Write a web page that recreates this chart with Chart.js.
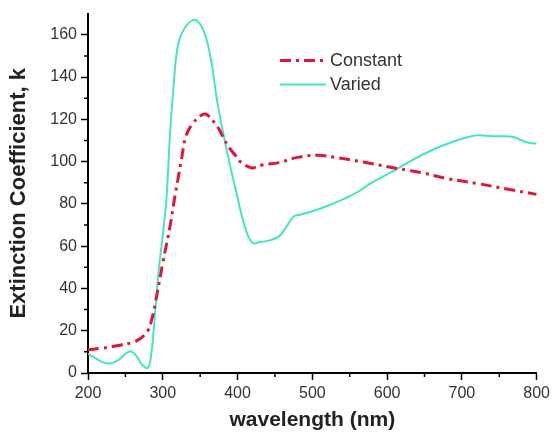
<!DOCTYPE html>
<html>
<head>
<meta charset="utf-8">
<script src="https://cdn.jsdelivr.net/npm/chart.js@4/dist/chart.umd.min.js"></script>
<style>
  html, body { margin: 0; padding: 0; background: #fff; }
  #chart { display: block; }
</style>
</head>
<body>
<canvas id="chart" width="554" height="439"></canvas>
<script>
// valeurs
const constantX = [200, 220, 240, 260, 270, 280, 285, 290, 300, 310, 315, 320, 325, 331, 340, 350, 355, 360, 370, 375, 380, 390, 397, 405, 415, 420, 433, 455, 480, 508, 530, 560, 580, 614, 627, 650, 680, 720, 760, 800];
const constantK = [11, 11.8, 13, 14.5, 16.3, 20, 25, 33, 52, 70, 81, 91, 101, 112, 118, 121.5, 122.5, 122, 118, 115.5, 112, 106, 103, 99.5, 97.5, 97, 98.4, 99.5, 102, 103, 102, 100.3, 99, 96.7, 96, 94.5, 92, 89.7, 87, 84.5];

const variedX = [200, 210, 220, 230, 240, 250, 257, 265, 272, 280, 285, 290, 295, 300, 305, 310, 315, 318, 322, 326, 332, 338, 344, 350, 355, 360, 366, 373, 386, 400, 410, 420, 430, 440, 455, 465, 475, 485, 500, 520, 543, 560, 578, 595, 614, 630, 650, 670, 685, 700, 720, 740, 755, 769, 780, 790, 800];
const variedK = [9, 7, 5, 4.5, 6, 9, 10.3, 8, 4, 2.5, 10, 30, 50, 65, 83, 115, 138, 150, 157.5, 161, 164.5, 166.5, 167, 165, 161.5, 156, 145, 128, 104.6, 83, 69, 61.5, 62, 62.5, 64.5, 69, 74, 75, 76.5, 79, 82.5, 85.5, 89.7, 93, 96.7, 100, 103.7, 107, 109, 110.8, 112.4, 112, 112, 111.6, 110, 108.8, 108.5];

const xTicks = [200, 300, 400, 500, 600, 700, 800];
const yTicks = [0, 20, 40, 60, 80, 100, 120, 140, 160];
const xMinor = [250, 350, 450, 550, 650, 750];
const yMinor = [10, 30, 50, 70, 90, 110, 130, 150];

const RED = '#e0163c';
const CYAN = '#44e6c2';

const toPoints = (xs, ys) => xs.map((x, i) => ({ x: x, y: ys[i] }));

// petits traits secondaires + légende dans la zone du graphique
const extras = {
    id: 'extras',
    afterDraw(chart) {
        const ctx = chart.ctx;
        const xs = chart.scales.x;
        const ys = chart.scales.y;
        ctx.save();
        ctx.strokeStyle = '#000';
        ctx.lineWidth = 1.5;
        ctx.beginPath();
        xMinor.forEach(v => {
            const px = xs.getPixelForValue(v);
            ctx.moveTo(px, ys.bottom);
            ctx.lineTo(px, ys.bottom + 4);
        });
        yMinor.forEach(v => {
            const py = ys.getPixelForValue(v);
            ctx.moveTo(xs.left, py);
            ctx.lineTo(xs.left - 4, py);
        });
        ctx.stroke();

        // légende
        const area = chart.chartArea;
        const lx = area.left + 192;
        chart.data.datasets.forEach((ds, i) => {
            const y = area.top + 47 + i * 24;
            ctx.strokeStyle = ds.borderColor;
            ctx.lineWidth = ds.borderWidth;
            ctx.setLineDash(ds.borderDash || []);
            ctx.beginPath();
            ctx.moveTo(lx, y);
            ctx.lineTo(lx + 46, y);
            ctx.stroke();
            ctx.setLineDash([]);
            ctx.fillStyle = '#333';
            ctx.font = '18px "Liberation Sans", Arial, sans-serif';
            ctx.textBaseline = 'middle';
            ctx.fillText(ds.label, lx + 50, y);
        });
        ctx.restore();
    }
};

new Chart(document.getElementById('chart'), {
    type: 'line',
    data: {
        datasets: [
            {
                label: 'Constant',
                data: toPoints(constantX, constantK),
                borderColor: RED,
                borderWidth: 3,
                borderDash: [11, 5, 3, 5],
                pointRadius: 0,
                tension: 0.4,
                fill: false
            },
            {
                label: 'Varied',
                data: toPoints(variedX, variedK),
                borderColor: CYAN,
                borderWidth: 2,
                pointRadius: 0,
                tension: 0.4,
                fill: false
            }
        ]
    },
    options: {
        responsive: false,
        animation: false,
        layout: { padding: { top: 10, right: 14, bottom: 0, left: 0 } },
        plugins: {
            legend: { display: false },
            tooltip: { enabled: false }
        },
        scales: {
            x: {
                type: 'linear',
                min: 200,
                max: 800,
                afterBuildTicks: s => { s.ticks = xTicks.map(v => ({ value: v })); },
                afterFit: s => { s.height = 66; },
                grid: { drawOnChartArea: false, tickLength: 7, tickColor: '#000', tickWidth: 1.5 },
                border: { display: true, color: '#000', width: 2 },
                ticks: {
                    padding: 4,
                    color: '#333',
                    font: { family: '"Liberation Sans", Arial, sans-serif', size: 16 }
                },
                title: {
                    display: true,
                    text: 'wavelength (nm)',
                    color: '#222',
                    padding: { top: 0, bottom: 6 },
                    font: { family: '"Liberation Sans", Arial, sans-serif', size: 21, weight: 'bold' }
                }
            },
            y: {
                min: 0,
                max: 170,
                afterBuildTicks: s => { s.ticks = yTicks.map(v => ({ value: v })); },
                afterFit: s => { s.width = 88; },
                grid: { drawOnChartArea: false, tickLength: 7, tickColor: '#000', tickWidth: 1.5 },
                border: { display: true, color: '#000', width: 2 },
                ticks: {
                    padding: 4,
                    color: '#333',
                    font: { family: '"Liberation Sans", Arial, sans-serif', size: 16 }
                },
                title: {
                    display: true,
                    text: 'Extinction Coefficient, k',
                    color: '#222',
                    padding: { top: 6, bottom: 0 },
                    font: { family: '"Liberation Sans", Arial, sans-serif', size: 22, weight: 'bold' }
                }
            }
        }
    },
    plugins: [extras]
});
</script>
</body>
</html>
